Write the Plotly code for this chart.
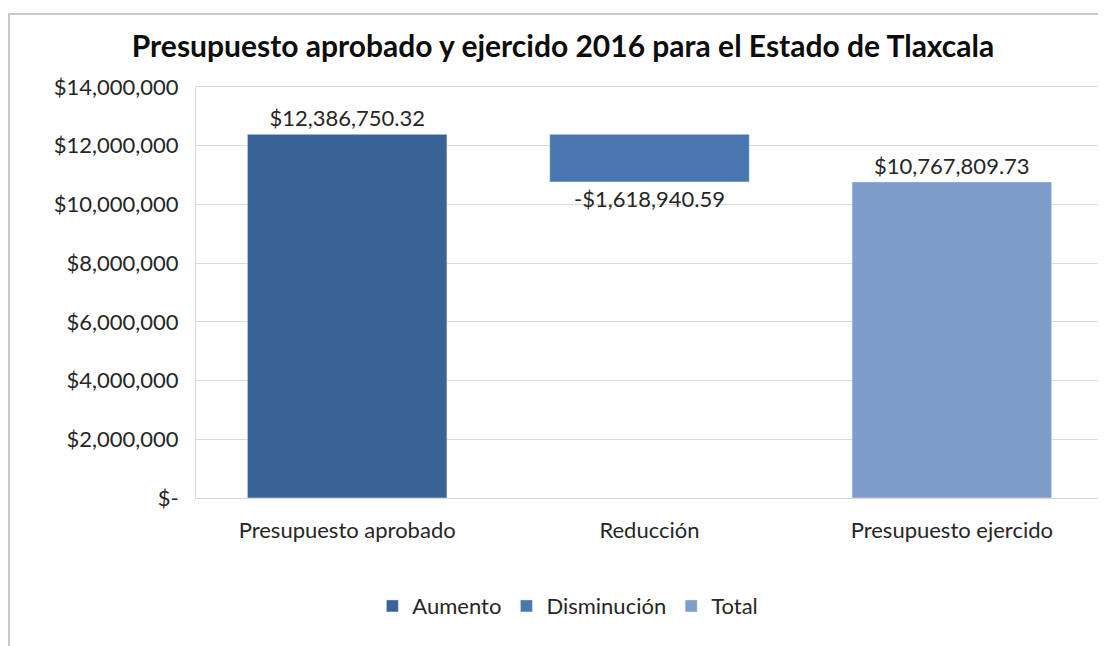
import plotly.graph_objects as go

categories = ["Presupuesto aprobado", "Reducción", "Presupuesto ejercido"]
aumento = [12386750.32, None, None]
disminucion = [None, -1618940.59, None]
disminucion_base = [None, 12386750.32, None]
total = [None, None, 10767809.73]
tick_vals = [0, 2000000, 4000000, 6000000, 8000000, 10000000, 12000000, 14000000]
tick_text = ["$-", "$2,000,000", "$4,000,000", "$6,000,000", "$8,000,000",
             "$10,000,000", "$12,000,000", "$14,000,000"]

FONT = "Lato"
label_font = dict(family=FONT, size=22, color="#262626")

fig = go.Figure()
fig.add_trace(go.Bar(name="Aumento", x=categories, y=aumento, marker_color="#3B6496",
                     texttemplate="%{y:$,.2f}", textposition="outside",
                     textfont=label_font, cliponaxis=False))
fig.add_trace(go.Bar(name="Disminución", x=categories, y=disminucion, base=disminucion_base,
                     marker_color="#4877B0",
                     texttemplate="%{y:$,.2f}", textposition="outside",
                     textfont=label_font, cliponaxis=False))
fig.add_trace(go.Bar(name="Total", x=categories, y=total, marker_color="#7F9DCA",
                     texttemplate="%{y:$,.2f}", textposition="outside",
                     textfont=label_font, cliponaxis=False))

fig.update_layout(
    width=1106, height=646,
    barmode="overlay",
    bargap=0.34,
    plot_bgcolor="white", paper_bgcolor="white",
    margin=dict(l=188, r=11, t=79, b=156),
    font=dict(family=FONT, size=22, color="#262626"),
    title=dict(text="<b>Presupuesto aprobado y ejercido 2016 para el Estado de Tlaxcala</b>",
               x=(563 - 8) / 1106, xref="container", y=1 - (46 - 8) / 646, yref="container",
               xanchor="center", yanchor="middle",
               font=dict(family=FONT, size=30, color="#0D0D0D")),
    showlegend=True,
    legend=dict(orientation="h", x=0.41, xanchor="center", y=-0.263, yanchor="middle",
                font=dict(family=FONT, size=22, color="#262626"),
                traceorder="normal", itemwidth=30),
    xaxis=dict(showline=True, linecolor="#D9D9D9", linewidth=1, mirror=True,
               ticks="", ticklabelstandoff=13, showgrid=False,
               tickfont=dict(family=FONT, size=22, color="#262626")),
    yaxis=dict(range=[0, 14000000], tickvals=tick_vals, ticktext=tick_text,
               showgrid=True, gridcolor="#D9D9D9", gridwidth=1,
               showline=True, linecolor="#D9D9D9", linewidth=1, mirror=True,
               ticks="", ticklabelstandoff=12, zeroline=False,
               tickfont=dict(family=FONT, size=22, color="#262626")),
    shapes=[dict(type="rect", xref="paper", yref="paper",
                 x0=(9 - 196) / 907, x1=1.05, y0=-0.5, y1=1 + (87 - 14) / 411,
                 line=dict(color="#C8C8C8", width=2), fillcolor="rgba(0,0,0,0)",
                 layer="below")],
)

fig.write_html("out.html")
